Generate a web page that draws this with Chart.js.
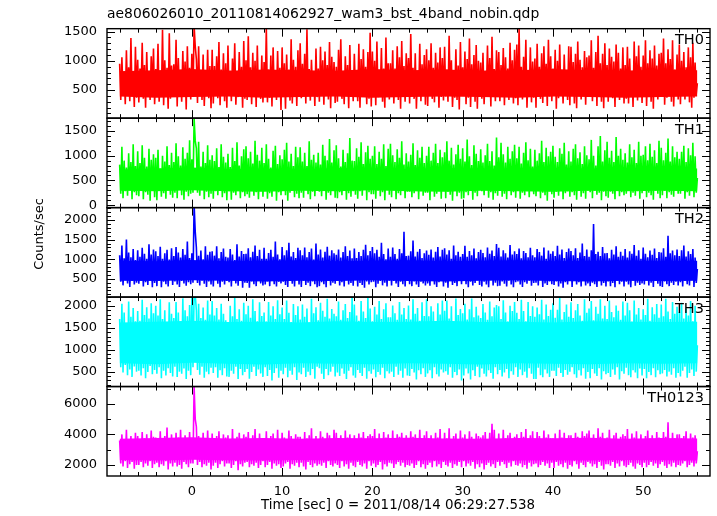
<!DOCTYPE html>
<html>
<head>
<meta charset="utf-8">
<script src="https://cdn.jsdelivr.net/npm/chart.js@4.4.1/dist/chart.umd.min.js"></script>
<style>
  html, body { margin: 0; padding: 0; background: #fff; }
  #wrap { position: relative; width: 717px; height: 516px; }
</style>
</head>
<body>
<div id="wrap"><canvas id="lc" width="717" height="516"></canvas></div>
<script>
const binStart = -8
const binSize = 0.125

const th0 = [
  950, 330, 1060, 420, 820, 260, 1180, 450, 890, 310, 1390, 400, 780, 210, 1240, 370,
  1020, 290, 870, 440, 1310, 350, 930, 200, 1150, 410, 800, 330, 1080, 470, 1210, 260,
  860, 430, 1290, 300, 760, 390, 1530, 240, 1010, 460, 880, 180, 1470, 350, 920, 410,
  940, 380, 1360, 220, 1050, 450, 820, 300, 1170, 390, 990, 170, 1250, 430, 880, 340,
  1120, 380, 1600, 1250, 1030, 280, 1250, 440, 840, 330, 1110, 230, 800, 420, 1190, 360, 910, 190,
  1190, 270, 910, 420, 1080, 360, 1320, 240, 850, 450, 1130, 310, 960, 200,
  1260, 400, 830, 310, 1040, 460, 1300, 250, 770, 380, 1150, 440, 900, 200, 1340, 350,
  1010, 330, 1420, 450, 890, 260, 1140, 380, 1000, 210, 1260, 430, 830, 350, 1090, 290,
  980, 420, 1560, 290, 850, 370, 1090, 220, 1230, 450, 790, 330, 1170, 400, 880, 160,
  1230, 400, 960, 180, 1110, 440, 850, 320, 1370, 270, 1020, 460, 900, 230, 1180, 390,
  1300, 360, 950, 440, 1120, 270, 1540, 410, 860, 320, 1020, 450, 790, 230, 1210, 380,
  870, 300, 1240, 420, 1010, 250, 1160, 460, 930, 340, 1320, 190, 1070, 410, 980, 280,
  900, 300, 1190, 430, 1370, 350, 810, 260, 1080, 470, 930, 190, 1270, 390, 840, 310,
  1120, 450, 840, 310, 1290, 200, 1030, 380, 1200, 430, 900, 260, 1150, 350, 1480, 220,
  1160, 420, 1000, 240, 1330, 380, 820, 450, 1220, 300, 870, 200, 1400, 410, 960, 340,
  960, 390, 1180, 270, 870, 440, 1250, 330, 1060, 180, 1340, 400, 910, 300, 1130, 460,
  1050, 270, 1460, 430, 880, 350, 1130, 180, 800, 420, 1290, 310, 940, 460, 1100, 250,
  1200, 230, 1010, 420, 1300, 350, 880, 290, 1140, 460, 970, 200, 1230, 380, 1050, 320,
  1240, 390, 850, 300, 1430, 440, 1010, 210, 780, 370, 1200, 330, 920, 170, 1320, 420,
  890, 440, 1160, 260, 1030, 370, 1380, 210, 940, 430, 1100, 300, 1270, 180, 1000, 400,
  970, 350, 1140, 260, 830, 450, 1260, 380, 1050, 220, 1410, 400, 860, 310, 1180, 430,
  1150, 310, 930, 450, 1220, 240, 1060, 390, 870, 330, 1310, 460, 1010, 270, 1190, 360,
  1280, 240, 1560, 390, 900, 340, 1070, 460, 1360, 200, 810, 410, 1230, 290, 990, 370,
  1040, 200, 1290, 410, 900, 350, 1130, 280, 1250, 440, 950, 230, 1360, 390, 1080, 310,
  870, 430, 1190, 180, 1000, 360, 1280, 420, 820, 270, 1110, 450, 790, 330, 1250, 240,
  1240, 420, 980, 270, 1120, 190, 1330, 400, 1020, 340, 890, 460, 1170, 250, 1060, 380,
  1090, 400, 1350, 310, 880, 460, 1150, 230, 1430, 380, 960, 300, 1120, 190, 1300, 420,
  930, 300, 1210, 440, 1070, 360, 990, 210, 1280, 410, 1140, 330, 870, 450, 1230, 270,
  930, 350, 1240, 270, 1040, 440, 830, 210, 1330, 390, 1080, 320, 1260, 450, 900, 280,
  1090, 390, 1350, 230, 960, 420, 1180, 300, 1040, 180, 1260, 380, 920, 340, 1120, 450,
  1140, 410, 1380, 250, 960, 370, 1200, 430, 1030, 300, 1350, 220, 850, 400, 1110, 340,
  1280, 260, 1000, 410, 1150, 340, 890, 460, 1230, 290, 1060, 200, 1310, 370, 970, 430,
  620
]

const th1 = [
  820, 230, 1180, 140, 900, 280, 760, 190, 1050, 310, 870, 120, 1230, 260, 790, 200,
  1090, 180, 850, 300, 1210, 120, 960, 260, 780, 210, 1140, 90, 920, 290, 1030, 160,
  960, 100, 1120, 290, 740, 170, 1000, 240, 880, 130, 1190, 300, 810, 210, 1060, 150,
  870, 250, 1250, 140, 990, 310, 800, 200, 1170, 110, 940, 270, 1060, 180, 1310, 230,
  930, 250, 1750, 1300, 1150, 250, 1280, 190, 780, 300, 1080, 120, 850, 270, 1210, 160, 920, 230,
  1010, 130, 890, 280, 1150, 200, 770, 310, 1230, 160, 980, 240, 860, 100,
  1040, 280, 770, 110, 1160, 250, 890, 200, 1270, 310, 800, 140, 990, 260, 1130, 180,
  1190, 220, 950, 150, 1080, 300, 840, 190, 1300, 260, 1020, 120, 900, 280, 1160, 170,
  850, 290, 1230, 130, 940, 240, 760, 170, 1100, 300, 1200, 90, 830, 260, 1010, 200,
  930, 300, 1120, 200, 1260, 90, 880, 250, 1040, 310, 790, 160, 1180, 230, 970, 140,
  1170, 250, 880, 150, 1060, 310, 790, 220, 1290, 120, 920, 270, 1020, 180, 860, 290,
  1060, 270, 820, 180, 1220, 290, 1000, 110, 910, 250, 1340, 200, 860, 300, 1110, 150,
  1210, 140, 950, 260, 780, 200, 1120, 310, 870, 110, 1050, 240, 1360, 170, 900, 280,
  890, 210, 1150, 130, 980, 280, 1270, 190, 830, 310, 1070, 100, 1200, 260, 940, 220,
  1000, 220, 1190, 130, 830, 290, 1080, 180, 940, 260, 1230, 100, 790, 300, 1140, 210,
  1240, 160, 1010, 300, 870, 120, 1130, 240, 960, 200, 1290, 290, 820, 140, 1050, 270,
  880, 270, 1020, 160, 1250, 240, 810, 300, 1110, 120, 960, 280, 1180, 190, 850, 250,
  1000, 250, 1180, 100, 900, 310, 1060, 170, 1240, 230, 850, 280, 1120, 130, 970, 300,
  1070, 140, 1290, 270, 900, 210, 1160, 90, 820, 290, 1030, 180, 1220, 250, 940, 130,
  1150, 140, 880, 260, 1330, 200, 990, 290, 810, 110, 1210, 250, 1040, 180, 890, 310,
  1130, 280, 860, 200, 1010, 310, 1240, 150, 890, 260, 1090, 110, 800, 240, 1370, 190,
  970, 290, 1260, 170, 1030, 230, 860, 120, 1180, 300, 940, 200, 1090, 260, 1220, 150,
  950, 300, 1180, 130, 840, 250, 1060, 200, 1270, 280, 910, 160, 1140, 290, 780, 220,
  1120, 180, 900, 310, 1050, 140, 1300, 250, 870, 200, 1160, 90, 990, 280, 1080, 220,
  1200, 150, 980, 270, 870, 190, 1150, 300, 1040, 120, 1260, 240, 820, 280, 1090, 170,
  880, 260, 1140, 200, 1230, 110, 950, 300, 1070, 170, 830, 240, 1190, 130, 1010, 290,
  930, 260, 1320, 140, 1000, 290, 800, 210, 1190, 250, 1400, 100, 880, 270, 1110, 180,
  1280, 150, 960, 270, 1100, 230, 870, 120, 1380, 300, 1000, 180, 1140, 260, 920, 200,
  1050, 230, 860, 300, 1230, 160, 970, 250, 1120, 190, 850, 280, 1280, 130, 1000, 240,
  1020, 300, 1190, 160, 910, 250, 1240, 200, 980, 110, 1110, 290, 850, 230, 1300, 140,
  1160, 200, 910, 290, 1060, 140, 1350, 260, 880, 210, 1190, 170, 970, 300, 1080, 230,
  940, 230, 1080, 290, 1200, 130, 870, 260, 1150, 190, 1010, 300, 1260, 160, 990, 250,
  550
]

const th2 = [
  1100, 420, 1350, 330, 1020, 460, 1500, 380, 1170, 290, 1050, 440, 1260, 350, 980, 400,
  1230, 370, 1060, 450, 1290, 300, 1140, 410, 1010, 340, 1380, 460, 1120, 280, 1250, 390,
  1200, 310, 1080, 450, 1320, 280, 1010, 420, 1150, 360, 1240, 300, 990, 470, 1280, 340,
  1080, 430, 1310, 350, 1170, 290, 1040, 440, 1260, 380, 1110, 320, 1450, 410, 1030, 360,
  1150, 400, 2400, 1700, 1300, 390, 1090, 330, 1220, 450, 1000, 370, 1330, 290, 1110, 430, 1190, 350,
  1200, 300, 1090, 460, 1330, 370, 1020, 280, 1180, 420, 1270, 350, 1060, 440,
  1040, 410, 1260, 300, 1120, 460, 980, 380, 1380, 320, 1070, 440, 1210, 270, 1130, 400,
  1140, 390, 1280, 270, 1050, 430, 1190, 360, 1350, 310, 1080, 450, 1240, 380, 1010, 330,
  1290, 350, 1010, 430, 1160, 310, 1240, 470, 1060, 360, 1450, 300, 1120, 420, 1000, 380,
  1310, 420, 1100, 340, 1230, 290, 1420, 440, 1070, 370, 1180, 300, 1030, 460, 1290, 350,
  1230, 290, 1100, 450, 1300, 340, 1050, 400, 1180, 310, 1270, 430, 990, 360, 1400, 280,
  1120, 310, 1250, 410, 1040, 360, 1190, 280, 1320, 450, 1090, 330, 1230, 400, 1150, 370,
  1110, 440, 1250, 330, 1040, 410, 1180, 300, 1330, 460, 1080, 350, 1220, 390, 1020, 320,
  1270, 460, 1030, 300, 1180, 390, 1080, 340, 1240, 270, 1370, 430, 1100, 350, 1210, 410,
  1310, 420, 1150, 280, 1240, 370, 1060, 440, 1420, 330, 1130, 400, 1000, 300, 1270, 450,
  1060, 330, 1300, 440, 1130, 380, 1010, 290, 1260, 420, 1150, 360, 1700, 300, 1080, 450,
  1090, 360, 1200, 310, 1480, 430, 1070, 350, 1190, 290, 1260, 420, 1030, 380, 1150, 330,
  1220, 380, 1110, 320, 1250, 460, 1040, 350, 1190, 290, 1310, 410, 1070, 440, 1240, 300,
  1280, 400, 1120, 270, 1230, 450, 1010, 340, 1350, 390, 1100, 310, 1190, 440, 1060, 360,
  1130, 450, 1340, 360, 1060, 280, 1210, 420, 1100, 330, 1270, 390, 1020, 460, 1180, 340,
  1240, 300, 1160, 420, 1050, 350, 1300, 280, 1140, 460, 1220, 330, 1080, 400, 1390, 310,
  1290, 320, 1070, 430, 1230, 370, 1150, 300, 1040, 450, 1360, 350, 1120, 280, 1200, 410,
  1130, 430, 1270, 350, 1020, 290, 1210, 410, 1160, 370, 1050, 450, 1290, 320, 1100, 390,
  1050, 400, 1260, 330, 1180, 460, 1090, 290, 1300, 380, 1010, 340, 1220, 430, 1140, 360,
  1200, 340, 1080, 430, 1340, 300, 1120, 380, 1250, 270, 1030, 410, 1180, 350, 1270, 440,
  1210, 290, 1100, 440, 1280, 350, 1030, 410, 1170, 300, 1400, 460, 1080, 330, 1250, 380,
  1060, 310, 1230, 400, 1900, 360, 1130, 290, 1190, 440, 1080, 330, 1310, 390, 1150, 300,
  1160, 430, 1020, 310, 1240, 390, 1120, 280, 1330, 450, 1060, 360, 1190, 420, 1090, 300,
  1260, 420, 1040, 350, 1200, 280, 1140, 450, 1360, 320, 1090, 400, 1230, 340, 1010, 380,
  1300, 350, 1140, 460, 1050, 330, 1220, 400, 1110, 290, 1270, 440, 1030, 370, 1180, 310,
  1170, 290, 1280, 430, 1060, 360, 1600, 310, 1150, 400, 1220, 340, 1100, 420, 1250, 330,
  1080, 410, 1230, 300, 1350, 440, 1070, 360, 1200, 330, 1130, 460, 1260, 290, 1040, 390,
  750
]

const th3 = [
  1700, 600, 2050, 480, 1850, 650, 1600, 420, 2100, 550, 1750, 380, 1950, 620, 1650, 500,
  1880, 520, 1660, 410, 2140, 580, 1790, 350, 1970, 490, 1710, 630, 2060, 440, 1830, 540,
  2000, 450, 1780, 600, 2150, 350, 1700, 520, 1900, 410, 1620, 580, 2080, 470, 1820, 390,
  1720, 610, 2090, 380, 1850, 500, 1640, 450, 2170, 570, 1900, 330, 1760, 520, 2020, 420,
  2200, 600, 2300, 2250, 1900, 540, 2050, 430, 1720, 610, 1960, 360, 1680, 500, 2120, 440, 1800, 590,
  2110, 470, 1780, 600, 1950, 360, 1690, 530, 2050, 420, 1820, 580, 1670, 390,
  1630, 380, 2000, 520, 1760, 450, 2180, 610, 1700, 330, 1920, 560, 1660, 420, 2070, 490,
  1810, 560, 2000, 340, 1730, 490, 2150, 610, 1880, 400, 1650, 550, 2080, 460, 1770, 380,
  1850, 600, 1640, 400, 2090, 540, 1780, 300, 1990, 470, 1700, 580, 2130, 360, 1810, 520,
  1960, 440, 1700, 590, 2120, 370, 1840, 520, 1630, 430, 2040, 600, 1790, 310, 1990, 480,
  1690, 440, 2030, 590, 1750, 380, 1940, 500, 1620, 420, 2160, 560, 1830, 340, 1970, 610,
  1670, 580, 2070, 450, 1890, 330, 1750, 560, 2160, 420, 1710, 500, 1930, 610, 1820, 390,
  1760, 480, 2100, 400, 1680, 570, 1900, 450, 2040, 330, 1720, 520, 1860, 600, 2190, 410,
  2030, 360, 1780, 540, 1660, 470, 2110, 400, 1870, 590, 1720, 340, 2180, 510, 1940, 450,
  1650, 550, 1980, 370, 1800, 490, 2110, 430, 1700, 590, 1920, 350, 2060, 510, 1740, 460,
  1740, 500, 2010, 380, 1830, 610, 1680, 430, 2090, 520, 1800, 360, 1950, 570, 1700, 410,
  2010, 400, 1690, 560, 2150, 480, 1820, 320, 1950, 530, 1660, 440, 2080, 580, 1770, 380,
  2150, 460, 1760, 530, 1990, 350, 1870, 600, 1650, 440, 2060, 390, 1800, 550, 2120, 480,
  1890, 510, 2120, 430, 1710, 600, 1990, 360, 1640, 490, 2170, 420, 1790, 550, 1930, 300,
  1830, 410, 2050, 570, 1690, 460, 1920, 320, 2170, 530, 1740, 400, 1980, 610, 1780, 370,
  1720, 570, 2040, 450, 1850, 390, 1680, 530, 2100, 470, 1760, 340, 1960, 600, 2020, 440,
  1990, 540, 1700, 390, 2130, 480, 1850, 560, 1640, 350, 2000, 510, 1880, 430, 2090, 600,
  1840, 380, 1700, 550, 2140, 420, 1880, 500, 1650, 360, 2090, 580, 1770, 450, 1990, 330,
  1750, 330, 1960, 590, 1810, 420, 2140, 370, 1690, 550, 2030, 460, 1770, 380, 1910, 520,
  2060, 520, 1730, 400, 1910, 590, 2180, 470, 1690, 380, 1860, 540, 2030, 430, 1750, 500,
  2080, 600, 1720, 440, 1900, 360, 2040, 530, 1780, 410, 1660, 580, 2150, 340, 1840, 490,
  1940, 350, 2110, 560, 1670, 460, 1980, 400, 1820, 580, 2150, 320, 1710, 510, 2000, 440,
  1700, 470, 2120, 380, 1860, 550, 1740, 430, 2010, 600, 1890, 320, 1680, 510, 2100, 450,
  1780, 590, 2070, 420, 1900, 370, 1640, 530, 2120, 480, 1800, 350, 1950, 570, 1690, 410,
  1920, 560, 1790, 350, 2160, 490, 1660, 420, 1970, 580, 1810, 370, 2040, 530, 1730, 440,
  2030, 460, 1760, 540, 2160, 390, 1870, 500, 1700, 430, 2090, 580, 1820, 360, 1980, 470,
  1860, 390, 2070, 520, 1710, 610, 1940, 360, 1780, 470, 2110, 550, 1650, 400, 2000, 500,
  1100
]

const th0123 = [
  3600, 2100, 4000, 1900, 3500, 2250, 4300, 1800, 3700, 2050, 3900, 2200, 3550, 1750, 4100, 2000,
  3900, 2000, 3650, 2200, 4150, 1850, 3750, 2100, 4000, 1950, 3600, 2250, 4250, 1800, 3850, 2050,
  3800, 2150, 3600, 1850, 4200, 2050, 3650, 1950, 3900, 2250, 4450, 1700, 3700, 2100, 4000, 1900,
  3700, 2150, 4100, 1900, 3800, 2000, 4300, 1750, 3650, 2200, 3950, 2050, 3750, 1850, 4150, 2100,
  3750, 2100, 7100, 5000, 4500, 2000, 3900, 2200, 3600, 1850, 4100, 2050, 3700, 1950, 4250, 2150, 3550, 1700,
  4050, 1950, 3700, 2150, 3900, 1800, 4200, 2050, 3600, 2250, 4000, 1900, 3800, 2100,
  3950, 2100, 3650, 1800, 4350, 2000, 3700, 2250, 3850, 1650, 4100, 2050, 3600, 1900, 4000, 2150,
  3850, 2200, 4150, 1850, 3700, 2050, 3950, 1950, 4350, 2150, 3650, 1800, 4050, 2000, 3750, 2250,
  3750, 1850, 4200, 2000, 3550, 2200, 3900, 1750, 4050, 2100, 3650, 1950, 4300, 2050, 3700, 1800,
  4100, 1900, 3800, 2100, 3650, 2200, 4250, 1750, 3900, 2050, 3700, 1950, 4000, 2150, 3850, 1850,
  3850, 2150, 3600, 1900, 4150, 1700, 3750, 2200, 3950, 2000, 4400, 1850, 3650, 2100, 3900, 1950,
  3650, 2050, 4200, 1950, 3850, 2150, 3700, 1800, 4100, 2250, 3950, 2000, 3600, 1900, 4300, 2100,
  4100, 2000, 3700, 1800, 3950, 2250, 3600, 1900, 4250, 2050, 3800, 1750, 4000, 2150, 3650, 1950,
  3950, 1850, 3700, 2200, 4050, 2000, 3800, 1900, 4150, 2100, 3650, 1750, 3900, 2250, 4000, 1950,
  3900, 2100, 4350, 1850, 3700, 2000, 4050, 2200, 3600, 1700, 4150, 2050, 3800, 1900, 4000, 2150,
  3750, 2100, 4250, 1800, 3600, 2050, 4000, 2200, 3850, 1950, 4100, 2150, 3700, 1850, 3950, 2000,
  3650, 1950, 4200, 2100, 3850, 1800, 4000, 2000, 3700, 2250, 4300, 1850, 3600, 2050, 3950, 1750,
  4200, 2000, 3750, 2150, 3950, 1850, 3650, 2250, 4100, 1900, 3800, 2050, 4350, 1800, 3700, 2200,
  4100, 2000, 3750, 1900, 4400, 2150, 3650, 1800, 3900, 2050, 4050, 1950, 3700, 2200, 4250, 1850,
  3800, 2250, 4000, 1900, 3700, 2100, 4200, 1950, 3850, 2200, 3600, 1750, 4050, 2050, 3900, 1850,
  3800, 2100, 3950, 1700, 4150, 2000, 3650, 2150, 4100, 1900, 4700, 2050, 4300, 1800, 3600, 2200,
  4050, 1950, 3650, 2200, 4300, 2050, 3750, 1800, 3950, 2150, 4100, 1900, 3700, 2250, 3850, 2000,
  4000, 1950, 3700, 2100, 4150, 1850, 3850, 2000, 4350, 1750, 3650, 2150, 3950, 1900, 4200, 2050,
  3700, 2100, 4150, 1850, 3900, 2000, 3600, 2200, 4250, 1950, 3800, 2100, 4000, 1800, 3750, 2150,
  3750, 1800, 4050, 2200, 3600, 1950, 4300, 2050, 3800, 1850, 4100, 2150, 3700, 1750, 3950, 2000,
  3950, 1900, 3700, 2250, 4100, 2050, 3850, 1750, 3650, 2150, 4200, 2000, 3900, 1850, 4050, 2200,
  4250, 2100, 3650, 1900, 4000, 2050, 3750, 1800, 4400, 2200, 3850, 1950, 4100, 1700, 3700, 2050,
  3800, 2050, 4300, 1950, 3700, 2200, 3950, 1800, 4100, 2100, 3650, 1900, 3850, 2250, 4000, 1950,
  3900, 1850, 4350, 2000, 3650, 2150, 4050, 1900, 3800, 1750, 4200, 2100, 3600, 2000, 4000, 1850,
  3650, 2150, 3900, 1850, 4250, 2000, 3750, 2200, 3950, 1950, 3700, 2100, 4150, 1800, 3800, 2050,
  3700, 2200, 4150, 1950, 3850, 1800, 4800, 2050, 3650, 1900, 4100, 2150, 3750, 1850, 4000, 2000,
  4000, 1950, 3750, 2100, 3900, 2250, 4200, 1850, 3650, 2000, 4050, 2150, 3800, 1900, 3950, 2100,
  2900
]

// edges of the solid (dense) part of each band, every 4 s from -8 s to 56 s
const coreStart = -8
const coreStep = 4
const th0CoreHi = [820, 840, 860, 830, 850, 840, 830, 860, 840, 850, 830, 840, 860, 840, 830, 850, 840]
const th0CoreLo = [390, 370, 380, 390, 370, 380, 390, 370, 380, 390, 380, 370, 390, 380, 370, 380, 390]
const th1CoreHi = [720, 740, 760, 730, 740, 720, 750, 740, 730, 750, 740, 730, 750, 740, 730, 750, 740]
const th1CoreLo = [290, 280, 300, 280, 270, 290, 280, 300, 280, 270, 290, 280, 270, 290, 280, 290, 280]
const th2CoreHi = [960, 950, 980, 950, 960, 970, 950, 960, 970, 950, 960, 970, 950, 960, 970, 950, 960]
const th2CoreLo = [450, 440, 460, 450, 430, 450, 440, 460, 440, 430, 450, 460, 440, 430, 450, 440, 450]
const th3CoreHi = [1620, 1640, 1660, 1630, 1640, 1620, 1650, 1630, 1640, 1660, 1630, 1640, 1620, 1650, 1640, 1630, 1640]
const th3CoreLo = [690, 670, 700, 680, 660, 690, 680, 670, 690, 680, 660, 690, 680, 670, 690, 680, 690]
const th0123CoreHi = [3720, 3770, 3820, 3740, 3760, 3720, 3770, 3750, 3780, 3740, 3720, 3770, 3750, 3780, 3720, 3760, 3740]
const th0123CoreLo = [2320, 2290, 2350, 2310, 2300, 2320, 2290, 2310, 2330, 2300, 2320, 2290, 2310, 2300, 2320, 2310, 2300]

// tick labels shown on each panel's left axis
const th0Ticks = [500, 1000, 1500]
const th1Ticks = [0, 500, 1000, 1500]
const th2Ticks = [500, 1000, 1500, 2000]
const th3Ticks = [500, 1000, 1500, 2000]
const th0123Ticks = [2000, 4000, 6000]
const timeTicks = [0, 10, 20, 30, 40, 50]

const FONT = '"DejaVu Sans", sans-serif'

const panels = [
  { name: 'TH0', color: '#ff0000', data: th0, hi: th0CoreHi, lo: th0CoreLo, ticks: th0Ticks, min: 20, max: 1550, minor: 100 },
  { name: 'TH1', color: '#00ff00', data: th1, hi: th1CoreHi, lo: th1CoreLo, ticks: th1Ticks, min: -50, max: 1760, minor: 100 },
  { name: 'TH2', color: '#0000ff', data: th2, hi: th2CoreHi, lo: th2CoreLo, ticks: th2Ticks, min: 30, max: 2320, minor: 100 },
  { name: 'TH3', color: '#00ffff', data: th3, hi: th3CoreHi, lo: th3CoreLo, ticks: th3Ticks, min: 160, max: 2200, minor: 100 },
  { name: 'TH0123', color: '#ff00ff', data: th0123, hi: th0123CoreHi, lo: th0123CoreLo, ticks: th0123Ticks, min: 1280, max: 7130, minor: 1000 }
]

function toPoints(vals, start, step) {
    return vals.map((v, i) => ({ x: start + i * step, y: v }))
}

const scales = {
    x: {
        type: 'linear',
        min: -9.4,
        max: 57.4,
        afterBuildTicks: s => { s.ticks = timeTicks.map(v => ({ value: v })) },
        afterFit: s => { s.height = 40 },
        grid: { display: false, drawTicks: false },
        border: { display: false },
        ticks: {
            autoSkip: false,
            maxRotation: 0,
            padding: 8,
            color: '#000',
            font: { family: FONT, size: 13 },
            callback: v => String(v)
        }
    }
}

// stacked axes: the last one added ends up on top, so add from the bottom panel up
for (let i = panels.length - 1; i >= 0; i--) {
    const p = panels[i]
    scales['y' + i] = {
        type: 'linear',
        position: 'left',
        stack: 'lc',
        stackWeight: 1,
        min: p.min,
        max: p.max,
        afterBuildTicks: s => { s.ticks = p.ticks.map(v => ({ value: v })) },
        afterFit: s => { s.width = 107 },
        grid: { display: false, drawTicks: false },
        border: { display: false },
        ticks: {
            autoSkip: false,
            padding: 10,
            color: '#000',
            font: { family: FONT, size: 13 },
            callback: v => String(v)
        }
    }
}

const framePlugin = {
    id: 'qdpFrame',
    afterDatasetsDraw(chart) {
        const { ctx, chartArea: a, scales: sc } = chart
        const xs = sc.x
        ctx.save()
        ctx.strokeStyle = '#000'
        ctx.lineWidth = 1
        const line = (x1, y1, x2, y2) => {
            ctx.beginPath(); ctx.moveTo(x1, y1); ctx.lineTo(x2, y2); ctx.stroke()
        }
        panels.forEach((p, i) => {
            const ys = sc['y' + i]
            for (let v = Math.ceil(ys.min / p.minor) * p.minor; v <= ys.max; v += p.minor) {
                const y = Math.round(ys.getPixelForValue(v)) + 0.5
                const len = p.ticks.includes(v) ? 8 : 4
                line(a.left, y, a.left + len, y)
                line(a.right - len, y, a.right, y)
            }
            for (let t = -8; t <= xs.max; t += 2) {
                const x = Math.round(xs.getPixelForValue(t)) + 0.5
                const len = t % 10 === 0 ? 8 : 4
                line(x, ys.top, x, ys.top + len)
                line(x, ys.bottom - len, x, ys.bottom)
            }
            ctx.lineWidth = 1.4
            ctx.strokeRect(a.left, ys.top, a.right - a.left, ys.bottom - ys.top)
            ctx.lineWidth = 1
            ctx.fillStyle = '#000'
            ctx.font = '14.5px ' + FONT
            ctx.textAlign = 'right'
            ctx.textBaseline = 'alphabetic'
            ctx.fillText(p.name, a.right - 6, ys.top + 15.5)
        })
        ctx.font = '13.4px ' + FONT
        ctx.textAlign = 'center'
        ctx.textBaseline = 'middle'
        ctx.fillText('Time [sec] 0 = 2011/08/14 06:29:27.538', 398, 506)
        // shared y title
        ctx.translate(40, 234)
        ctx.rotate(-Math.PI / 2)
        ctx.font = '13px ' + FONT
        ctx.fillText('Counts/sec', 0, 0)
        ctx.restore()
    }
}

const datasets = []
panels.forEach((p, i) => {
    datasets.push({
        label: p.name,
        data: toPoints(p.data, binStart, binSize),
        yAxisID: 'y' + i,
        borderColor: p.color,
        borderWidth: 1.6,
        pointRadius: 0,
        tension: 0,
        fill: false,
        order: 0
    })
    // dense core: filled between the upper and lower edge
    datasets.push({
        label: p.name + ' core hi',
        data: toPoints(p.hi, coreStart, coreStep),
        yAxisID: 'y' + i,
        borderWidth: 0,
        pointRadius: 0,
        backgroundColor: p.color,
        fill: '+1',
        order: 1
    })
    datasets.push({
        label: p.name + ' core lo',
        data: toPoints(p.lo, coreStart, coreStep),
        yAxisID: 'y' + i,
        borderWidth: 0,
        pointRadius: 0,
        fill: false,
        order: 1
    })
})

const lc = document.querySelector('#lc')
new Chart(lc, {
    type: 'line',
    data: { datasets: datasets },
    options: {
        responsive: false,
        animation: false,
        devicePixelRatio: 1,
        layout: { padding: { top: 0, right: 7, bottom: 0, left: 0 } },
        plugins: {
            legend: { display: false },
            tooltip: { enabled: false },
            title: {
                display: true,
                text: 'ae806026010_20110814062927_wam3_bst_4band_nobin.qdp',
                align: 'start',
                fullSize: false,
                color: '#000',
                font: { family: FONT, size: 13.9, weight: 'normal' },
                padding: { top: 6, bottom: 6 }
            }
        },
        scales: scales
    },
    plugins: [framePlugin]
})
</script>
</body>
</html>
